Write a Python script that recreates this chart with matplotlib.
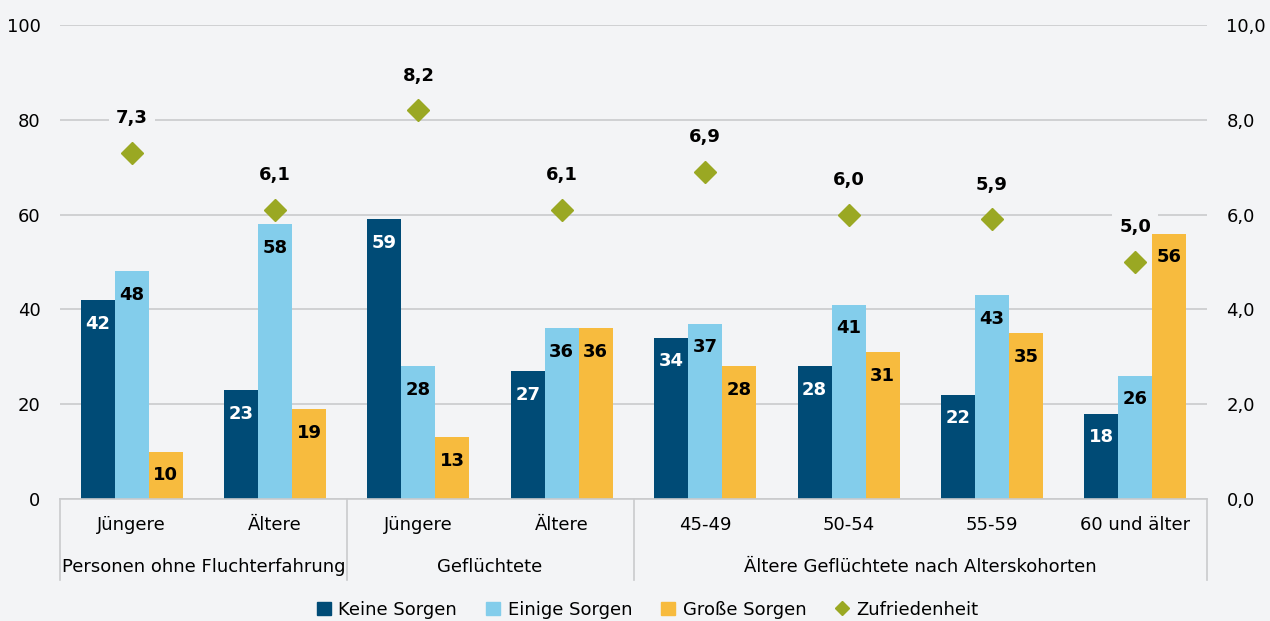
import numpy as np
import matplotlib
matplotlib.use('Agg')
import matplotlib.pyplot as plt
from matplotlib.patches import Patch
from matplotlib.lines import Line2D

plt.rcParams['font.family'] = ['DejaVu Sans']

CATEGORIES = ['Jüngere', 'Ältere', 'Jüngere', 'Ältere', '45-49', '50-54', '55-59', '60 und älter']
GROUPS = ['Personen ohne Fluchterfahrung', 'Geflüchtete', 'Ältere Geflüchtete nach Alterskohorten']
GROUP_SPANS = [(0, 1), (2, 3), (4, 7)]

KEINE = [42, 23, 59, 27, 34, 28, 22, 18]
EINIGE = [48, 58, 28, 36, 37, 41, 43, 26]
GROSSE = [10, 19, 13, 36, 28, 31, 35, 56]
ZUFRIEDENHEIT = [7.3, 6.1, 8.2, 6.1, 6.9, 6.0, 5.9, 5.0]

BG = '#f3f4f6'
DARK = '#004b76'
LIGHT = '#83cdeb'
ORANGE = '#f7bb3e'
GREEN = '#9aa823'
GRID = '#c9cacc'

fig = plt.figure(figsize=(12.7, 6.21), dpi=100, facecolor=BG)
ax = fig.add_axes([60 / 1270, 122 / 621, 1147 / 1270, 474 / 621])
ax2 = ax.twinx()

# right axis (Zufriedenheit) sits behind the bars so its label boxes only hide grid lines
ax2.set_zorder(0)
ax.set_zorder(1)
ax.patch.set_visible(False)
ax2.patch.set_visible(True)
ax2.patch.set_facecolor(BG)

x = np.arange(len(CATEGORIES))
w = 0.237
series = [(KEINE, DARK, 'white', -w), (EINIGE, LIGHT, 'black', 0), (GROSSE, ORANGE, 'black', w)]
for values, color, txt_color, off in series:
    bars = ax.bar(x + off, values, width=w, color=color, zorder=2)
    for b, v in zip(bars, values):
        ax.annotate(str(v), (b.get_x() + b.get_width() / 2, v), xytext=(0, -17),
                    textcoords='offset points', ha='center', va='center',
                    fontsize=13, fontweight='bold', color=txt_color, zorder=3)

ax.set_xlim(-0.5, 7.5)
ax.set_ylim(0, 100)
ax.set_yticks(range(0, 101, 20))
ax.tick_params(axis='y', length=0, pad=14, labelsize=13)
ax.set_xticks([])
for s in ['top', 'left', 'right']:
    ax.spines[s].set_visible(False)
ax.spines['bottom'].set_color(GRID)
ax.spines['bottom'].set_linewidth(1.2)

ax2.set_ylim(0, 10)
ax2.set_yticks(range(0, 11, 2))
ax2.set_yticklabels([f'{v},0' for v in range(0, 11, 2)])
ax2.tick_params(axis='y', length=0, pad=14, labelsize=13)
ax2.yaxis.grid(True, color=GRID, linewidth=1.2, zorder=0.5)
ax2.set_axisbelow(True)
for s in ax2.spines.values():
    s.set_visible(False)
ax2.plot(x, ZUFRIEDENHEIT, linestyle='none', marker='D', markersize=11.5,
         color=GREEN, zorder=4)
for xi, v in zip(x, ZUFRIEDENHEIT):
    ax2.annotate(f'{v:.1f}'.replace('.', ','), (xi, v), xytext=(0, 25),
                 textcoords='offset points', ha='center', va='center',
                 fontsize=13, fontweight='bold', color='black', zorder=3,
                 bbox=dict(boxstyle='square,pad=0.4', facecolor=BG, edgecolor='none'))

# category and group labels below the axis
trans = ax.get_xaxis_transform()
for xi, lab in zip(x, CATEGORIES):
    ax.text(xi, -0.055, lab, transform=trans, ha='center', va='center', fontsize=13)
for name, (a, b) in zip(GROUPS, GROUP_SPANS):
    ax.text((a + b) / 2, -0.143, name, transform=trans, ha='center', va='center', fontsize=13)
for sep in [-0.5, 1.5, 3.5, 7.5]:
    ax.plot([sep, sep], [0, -0.171], transform=trans, color=GRID, linewidth=1.2, clip_on=False)

handles = [Patch(color=DARK, label='Keine Sorgen'),
           Patch(color=LIGHT, label='Einige Sorgen'),
           Patch(color=ORANGE, label='Große Sorgen'),
           Line2D([], [], linestyle='none', marker='D', color=GREEN, markersize=7, label='Zufriedenheit')]
fig.legend(handles=handles, loc='center', bbox_to_anchor=(0.51, 0.018), ncol=4, frameon=False,
           fontsize=13, handlelength=0.8, handleheight=0.8, handletextpad=0.4, columnspacing=1.6)

fig.savefig('out.png', dpi=100, facecolor=BG)
